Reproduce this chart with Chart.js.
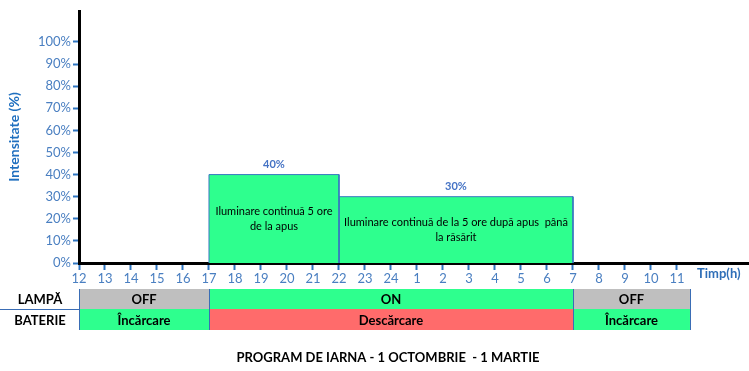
<!DOCTYPE html>
<html><head><meta charset="utf-8">
<script src="https://cdn.jsdelivr.net/npm/chart.js@4.4.1/dist/chart.umd.min.js"></script>
<style>html,body{margin:0;padding:0;background:#fff}#wrap{width:749px;height:371px;position:relative}</style>
</head><body><div id="wrap"><canvas id="c" width="749" height="371"></canvas></div>
<script>
// Hour tick labels (index 0..23)
const hourLabels = ['12','13','14','15','16','17','18','19','20','21','22','23','24','1','2','3','4','5','6','7','8','9','10','11'];
const yTicks = [0,10,20,30,40,50,60,70,80,90,100];
// Illumination segments (index into hourLabels)
const segStart = [5, 10];
const segEnd = [10, 19];
const segValue = [40, 30];
const segText = [['Iluminare continuă 5 ore','de la apus'], ['Iluminare continuă de la 5 ore după apus  până','la răsărit']];
// Table rows
const lampStart = [0, 5, 19];
const lampEnd = [5, 19, 23.5];
const lampState = ['OFF', 'ON', 'OFF'];
const batStart = [0, 5, 19];
const batEnd = [5, 19, 23.5];
const batState = ['Încărcare', 'Descărcare', 'Încărcare'];
const rowLabels = ['LAMPĂ', 'BATERIE'];
const title = 'PROGRAM DE IARNA - 1 OCTOMBRIE  - 1 MARTIE';

const GREEN = '#2EFF8E', GRAY = '#BFBFBF', RED = '#FF6B6B', BLUE = '#4A7FC1';
const stateColor = {'OFF': GRAY, 'ON': GREEN, 'Încărcare': GREEN, 'Descărcare': RED};

const datasets = segValue.map((v, i) => ({
  type: 'line',
  data: [{x: segStart[i], y: 0}, {x: segStart[i], y: v}, {x: segEnd[i], y: v}, {x: segEnd[i], y: 0}],
  borderColor: '#3A78C0', borderWidth: 1, backgroundColor: GREEN,
  fill: 'origin', pointRadius: 0, tension: 0
}));

const FONT = 'Lato, "Open Sans", sans-serif';

const overlay = {
  id: 'overlay',
  afterDatasetsDraw(chart) {
    const {ctx, scales: {x, y}} = chart;
    ctx.save();
    ctx.textAlign = 'center';
    ctx.textBaseline = 'middle';
    segValue.forEach((v, i) => {
      const cx = (x.getPixelForValue(segStart[i]) + x.getPixelForValue(segEnd[i])) / 2;
      const top = y.getPixelForValue(v), bot = y.getPixelForValue(0);
      ctx.fillStyle = '#4472C4';
      ctx.font = 'bold 11px ' + FONT;
      ctx.fillText(v + '%', cx, top - 10);
      ctx.fillStyle = '#000';
      ctx.font = '11px ' + FONT;
      const mid = (top + bot) / 2;
      const lines = segText[i];
      lines.forEach((t, k) => ctx.fillText(t, cx, mid + (k - (lines.length - 1) / 2) * 15));
    });
    // Timp(h)
    ctx.fillStyle = '#2F6FB8';
    ctx.font = 'bold 13px ' + FONT;
    ctx.textAlign = 'left';
    ctx.fillText('Timp(h)', 697, 274);
    // Table
    const r1t = 289, r1b = 309, r2b = 330;
    const drawRow = (starts, ends, states, top, bottom) => {
      starts.forEach((s, i) => {
        const x0 = x.getPixelForValue(s), x1 = x.getPixelForValue(ends[i]);
        ctx.fillStyle = stateColor[states[i]];
        ctx.fillRect(x0, top, x1 - x0, bottom - top);
        ctx.fillStyle = '#000';
        ctx.font = 'bold 13px ' + FONT;
        ctx.textAlign = 'center';
        ctx.fillText(states[i], (x0 + x1) / 2, (top + bottom) / 2 + 1);
      });
    };
    drawRow(lampStart, lampEnd, lampState, r1t, r1b);
    drawRow(batStart, batEnd, batState, r1b, r2b);
    // borders
    ctx.strokeStyle = '#3A6DB5';
    ctx.lineWidth = 1;
    ctx.beginPath();
    ctx.moveTo(0, r1b + 0.5); ctx.lineTo(x.getPixelForValue(0), r1b + 0.5);
    const xs = [0, 5, 19, 23.5].map(v => Math.round(x.getPixelForValue(v)) + 0.5);
    xs.forEach(px => { ctx.moveTo(px, r1t); ctx.lineTo(px, r2b); });
    ctx.stroke();
    // row labels
    ctx.fillStyle = '#000';
    ctx.font = 'bold 13px ' + FONT;
    ctx.textAlign = 'center';
    ctx.fillText(rowLabels[0], 40, (r1t + r1b) / 2 + 1);
    ctx.fillText(rowLabels[1], 40, (r1b + r2b) / 2 + 1);
    // title
    ctx.font = 'bold 13px ' + FONT;
    ctx.fillText(title, 388, 358);
    ctx.restore();
  }
};

new Chart(document.getElementById('c'), {
  type: 'line',
  data: {datasets},
  plugins: [overlay],
  options: {
    responsive: false, animation: false,
    layout: {padding: {top: 11, right: 0, left: 0, bottom: 0}},
    plugins: {legend: {display: false}, tooltip: {enabled: false}},
    scales: {
      x: {
        type: 'linear', min: 0, max: 25.77,
        afterBuildTicks: s => { s.ticks = hourLabels.map((_, i) => ({value: i})); },
        afterFit: s => { s.height = 371 - 11 - 252; },
        ticks: {callback: (v) => hourLabels[v], color: '#4A7FC1', font: {size: 13, family: FONT}, padding: 1, maxRotation: 0, autoSkip: false},
        grid: {drawOnChartArea: false, tickLength: 7, tickColor: '#2F75C0', tickWidth: 2},
        border: {color: '#000', width: 3}
      },
      y: {
        min: 0, max: 114,
        afterBuildTicks: s => { s.ticks = yTicks.map(v => ({value: v})); },
        afterFit: s => { s.width = 79; },
        ticks: {callback: v => v + '%', color: '#4A7FC1', font: {size: 13, family: FONT}, padding: 2},
        grid: {drawOnChartArea: false, tickLength: 6, tickColor: '#2F75C0', tickWidth: 2},
        border: {color: '#000', width: 3},
        title: {display: true, text: 'Intensitate (%)', color: '#1F6FBF', font: {size: 14, weight: 'bold', family: FONT}, padding: {top: 6, bottom: 0}}
      }
    }
  }
});
</script></body></html>
